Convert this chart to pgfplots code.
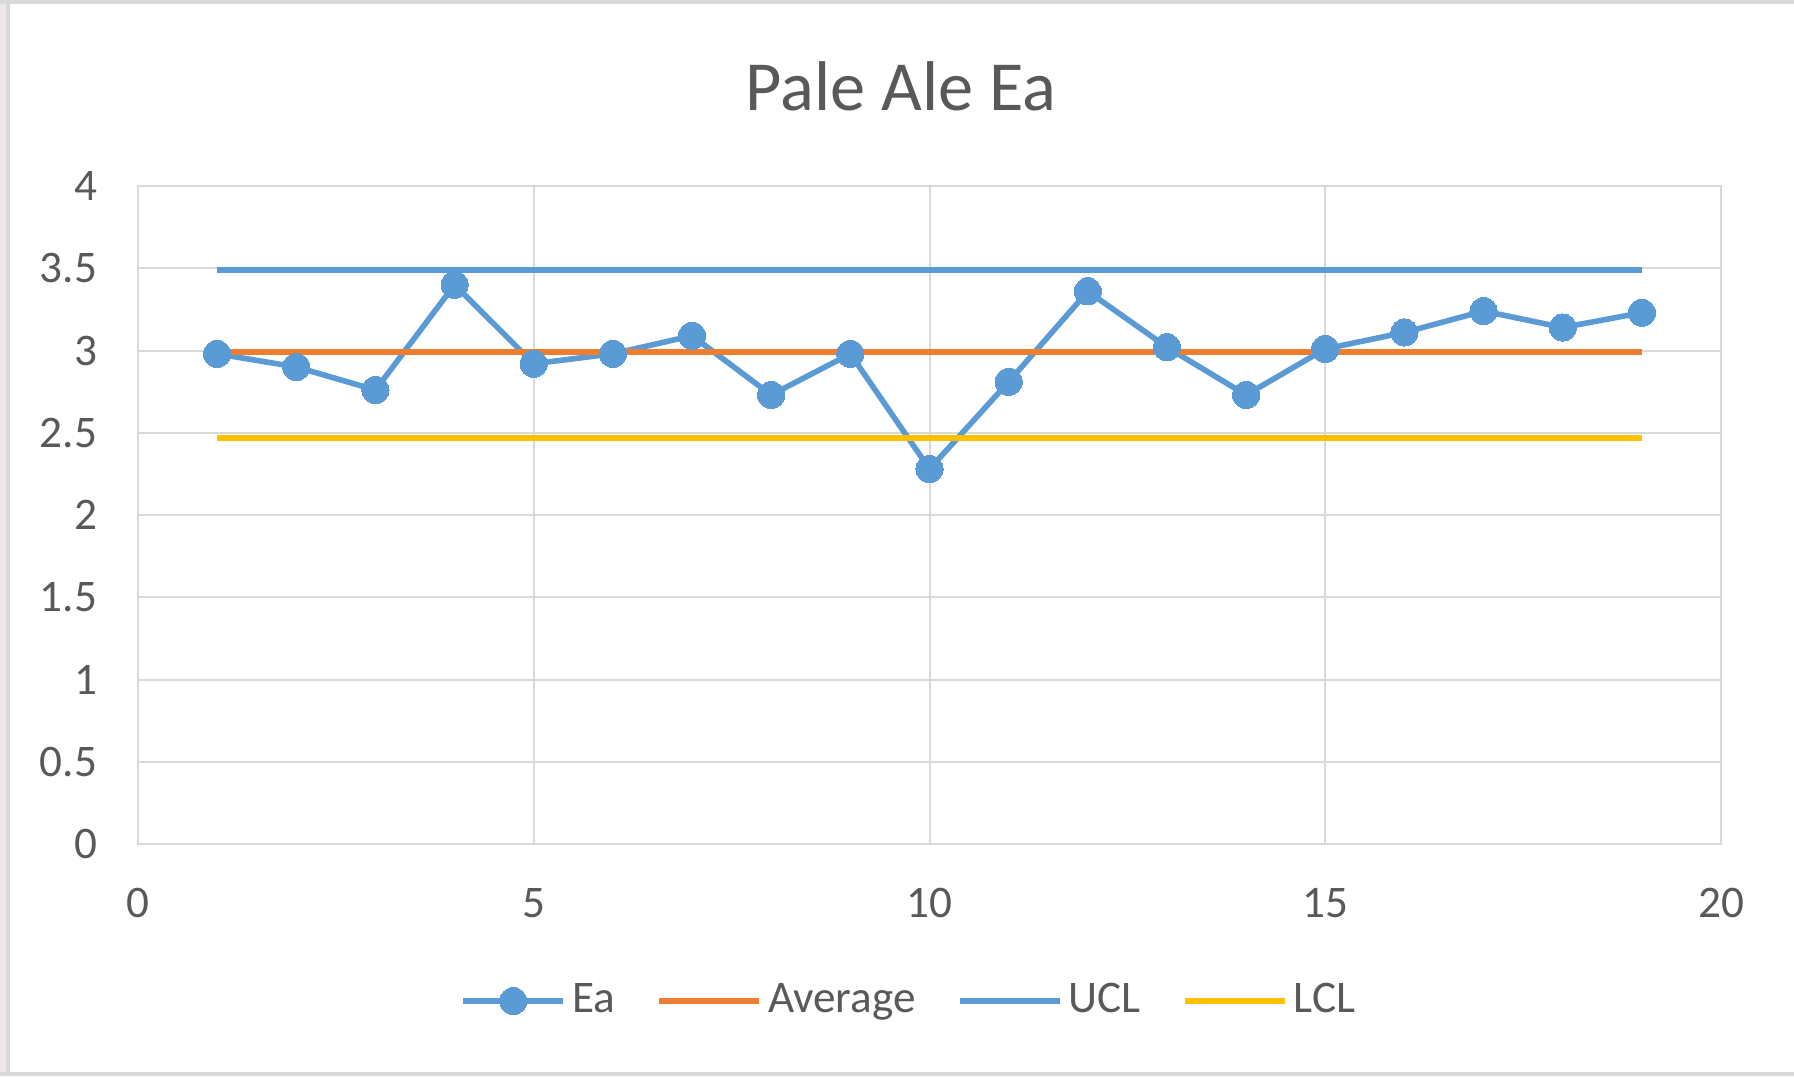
\documentclass[border=0pt]{standalone}
\usepackage{pgfplots}
\pgfplotsset{compat=1.18}
\usepackage{fontspec}
\setmainfont{Carlito}
\definecolor{cBlue}{HTML}{5B9BD5}
\definecolor{cOrange}{HTML}{ED7D31}
\definecolor{cYellow}{HTML}{FFC000}
\definecolor{cGrid}{HTML}{D9D9D9}
\definecolor{cText}{HTML}{595959}
\definecolor{cEdge}{HTML}{EEE8E8}
\pgfplotstableread{
x y
1 2.98
2 2.90
3 2.76
4 3.40
5 2.92
6 2.98
7 3.09
8 2.73
9 2.98
10 2.28
11 2.81
12 3.36
13 3.02
14 2.73
15 3.01
16 3.11
17 3.24
18 3.14
19 3.23
}\eadata
\begin{document}
\begin{tikzpicture}
\path[use as bounding box] (0,0) rectangle (448.5pt,-269pt);
\fill[white] (0,0) rectangle (448.5pt,-269pt);
\fill[cEdge] (0,0) rectangle (1.4pt,-269pt);
\fill[cGrid] (1.4pt,0) rectangle (2.5pt,-269pt);
\fill[cGrid] (0,0) rectangle (448.5pt,-1.1pt);
\fill[cGrid] (0,-267.9pt) rectangle (448.5pt,-269pt);
\node[font=\fontsize{17.6}{20}\selectfont, text=cText] at (225.25pt,-21.5pt) {Pale Ale Ea};
\begin{axis}[
  at={(34.5pt,-211pt)}, anchor=south west,
  scale only axis, width=395.75pt, height=164.5pt,
  xmin=0, xmax=20, ymin=0, ymax=4,
  xtick={0,5,10,15,20},
  ytick={0,0.5,1,1.5,2,2.5,3,3.5,4},
  grid=major,
  major grid style={cGrid, line width=0.5pt},
  axis line style={cGrid, line width=0.6pt},
  major tick length=0pt,
  tick style={draw=none},
  /pgf/number format/assume math mode=true,
  tick label style={font=\fontsize{11.3}{13}\selectfont, text=cText},
  yticklabel style={anchor=east, inner sep=0pt, xshift=-10pt},
  xticklabel style={anchor=center, inner sep=0pt, yshift=-14.75pt},
  legend columns=4,
  legend style={draw=none, fill=none, at={(0.4883,-0.2386)}, anchor=center,
    font=\fontsize{11.3}{13}\selectfont, text=cText,
    /tikz/every even column/.append style={column sep=8.75pt},
    nodes={inner sep=1.5pt}},
  legend image code/.code={\draw[mark repeat=2,mark phase=2,#1] plot coordinates {(0pt,0pt) (12.5pt,0pt) (25pt,0pt)};},
  clip=false,
]
\addplot[cBlue, line width=1.4pt, mark=*, mark size=3.4pt, mark options={solid, fill=cBlue, draw=cBlue, line width=0pt}] table[x=x,y=y] {\eadata};
\addlegendentry{Ea}
\addplot[cOrange, line width=1.5pt] coordinates {(1,2.99) (19,2.99)};
\addlegendentry{Average}
\addplot[cBlue, line width=1.5pt] coordinates {(1,3.49) (19,3.49)};
\addlegendentry{UCL}
\addplot[cYellow, line width=1.5pt] coordinates {(1,2.47) (19,2.47)};
\addlegendentry{LCL}
\end{axis}
\end{tikzpicture}
\end{document}
